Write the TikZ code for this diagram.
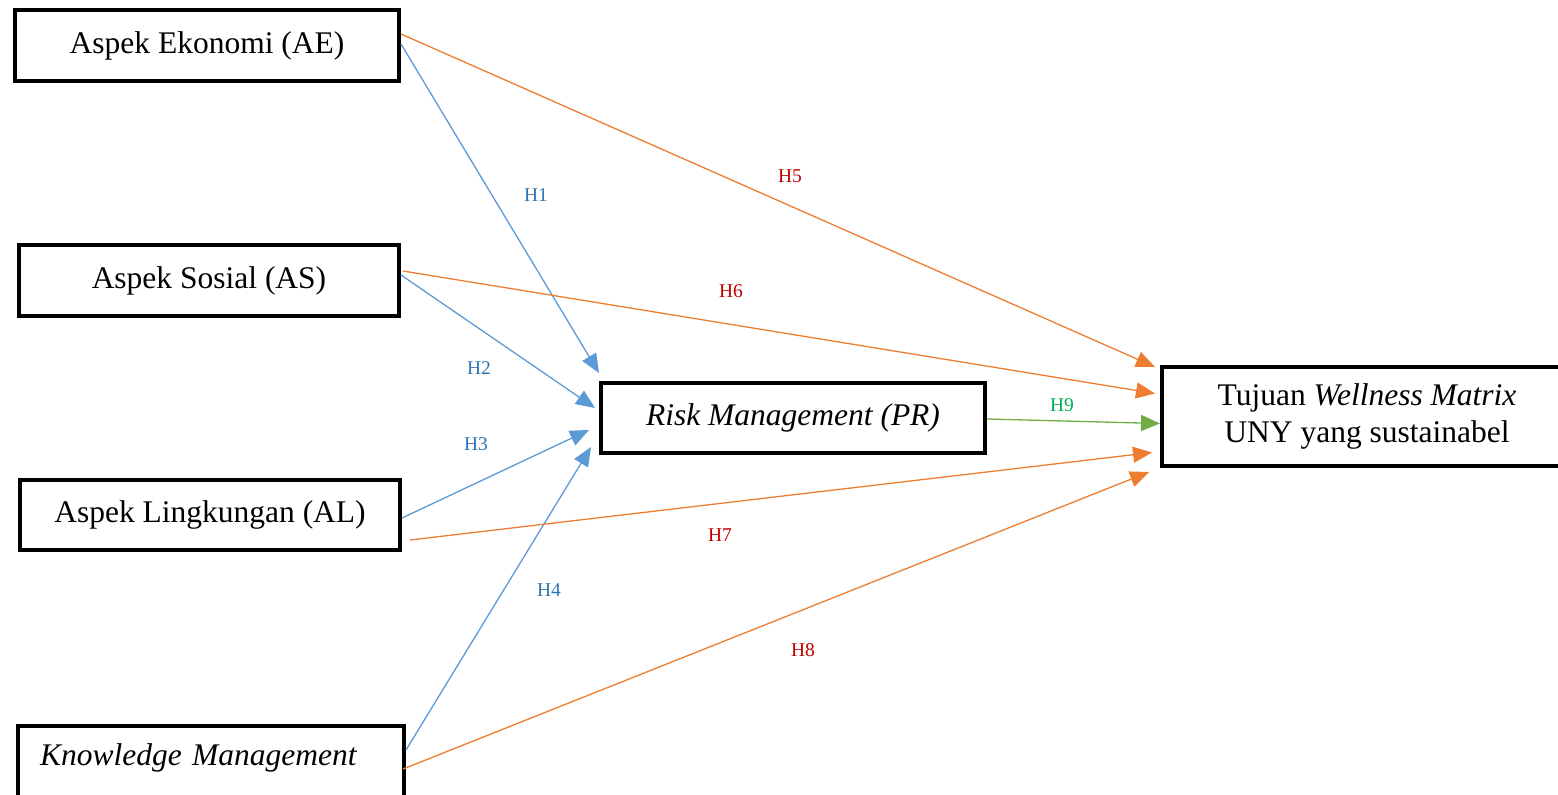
\documentclass[tikz,border=0pt]{standalone}
\usepackage{fontspec}
\setmainfont{Liberation Serif}
\usetikzlibrary{arrows.meta,calc}
\definecolor{lblue}{HTML}{5B9BD5}
\definecolor{tblue}{HTML}{2E74B5}
\definecolor{lorange}{HTML}{ED7D31}
\definecolor{tred}{HTML}{C00000}
\definecolor{lgreen}{HTML}{70AD47}
\definecolor{tgreen}{HTML}{00B050}
\tikzset{
  box/.style={draw=black, line width=4pt, inner sep=0pt, fill=white,
    font=\fontsize{31.5}{37}\selectfont, align=center},
  arr/.style={line width=1.3pt, -{Triangle[length=19pt,width=16pt]}},
  bluearr/.style={arr, lblue},
  orangearr/.style={arr, lorange},
  greenarr/.style={arr, lgreen},
  hlab/.style={font=\fontsize{19.5}{22}\selectfont, inner sep=0pt},
}
\begin{document}
\begin{tikzpicture}[x=1pt,y=-1pt]
\useasboundingbox (0,0) rectangle (1558,795);
\clip (0,0) rectangle (1558,795);
% boxes
\node[box, minimum width=384pt, minimum height=71pt] (AE) at (207,45.5) {Aspek Ekonomi (AE)};
\node[box, minimum width=380pt, minimum height=71pt] (AS) at (209,280.5) {Aspek Sosial (AS)};
\node[box, minimum width=380pt, minimum height=70pt] (AL) at (210,515) {Aspek Lingkungan (AL)};
\node[box, minimum width=386pt, minimum height=80pt, text width=342pt, text height=22pt, text depth=24pt, align=left, inner xsep=22pt, anchor=north west] (KM) at (16,724) {\itshape Knowledge Management};
\node[box, minimum width=384pt, minimum height=70pt] (PR) at (793,418) {\itshape Risk Management (PR)};
\node[box, minimum width=410pt, minimum height=99pt] (TU) at (1367,416.5) {Tujuan \textit{Wellness Matrix}\\UNY yang sustainabel};
% connector start points
\coordinate (ae1) at ($(AE.east)+(0,-1.5)$);
\coordinate (ae5) at ($(AE.east)+(0,-11.5)$);
\coordinate (as2) at ($(AS.east)+(0,-5.5)$);
\coordinate (as6) at ($(AS.east)+(2,-9.5)$);
\coordinate (al3) at ($(AL.east)+(0,3)$);
\coordinate (al7) at ($(AL.east)+(8,25)$);
\coordinate (km4) at ($(KM.north east)+(0,26)$);
\coordinate (km8) at ($(KM.north east)+(-3,45)$);
% connector end points
\coordinate (pr1) at ($(PR.north west)+(0,-8)$);
\coordinate (pr2) at ($(PR.west)+(-4,-10)$);
\coordinate (pr3) at ($(PR.west)+(-10,12)$);
\coordinate (pr4) at ($(PR.south west)+(-8,-8)$);
\coordinate (tu5) at ($(TU.north west)+(-5,2)$);
\coordinate (tu6) at ($(TU.west)+(-5,-23)$);
\coordinate (tu9) at ($(TU.west)+(0,7)$);
\coordinate (tu7) at ($(TU.west)+(-8,36)$);
\coordinate (tu8) at ($(TU.south west)+(-11,4)$);
% blue
\draw[bluearr] (ae1) -- (pr1);
\draw[bluearr] (as2) -- (pr2);
\draw[bluearr] (al3) -- (pr3);
\draw[bluearr] (km4) -- (pr4);
% orange
\draw[orangearr] (ae5) -- (tu5);
\draw[orangearr] (as6) -- (tu6);
\draw[orangearr] (al7) -- (tu7);
\draw[orangearr] (km8) -- (tu8);
% green
\draw[greenarr] ($(PR.east)+(0,1)$) -- (tu9);
% labels
\node[hlab, text=tblue] (h1) at (536,195) {H1};
\node[hlab, text=tblue] (h2) at (479,368) {H2};
\node[hlab, text=tblue] (h3) at (476,444) {H3};
\node[hlab, text=tblue] (h4) at (549,590) {H4};
\node[hlab, text=tred] (h5) at (790,176) {H5};
\node[hlab, text=tred] (h6) at (731,291) {H6};
\node[hlab, text=tred] (h7) at (720,535) {H7};
\node[hlab, text=tred] (h8) at (803,650) {H8};
\node[hlab, text=tgreen] (h9) at (1062,405) {H9};
\end{tikzpicture}
\end{document}
